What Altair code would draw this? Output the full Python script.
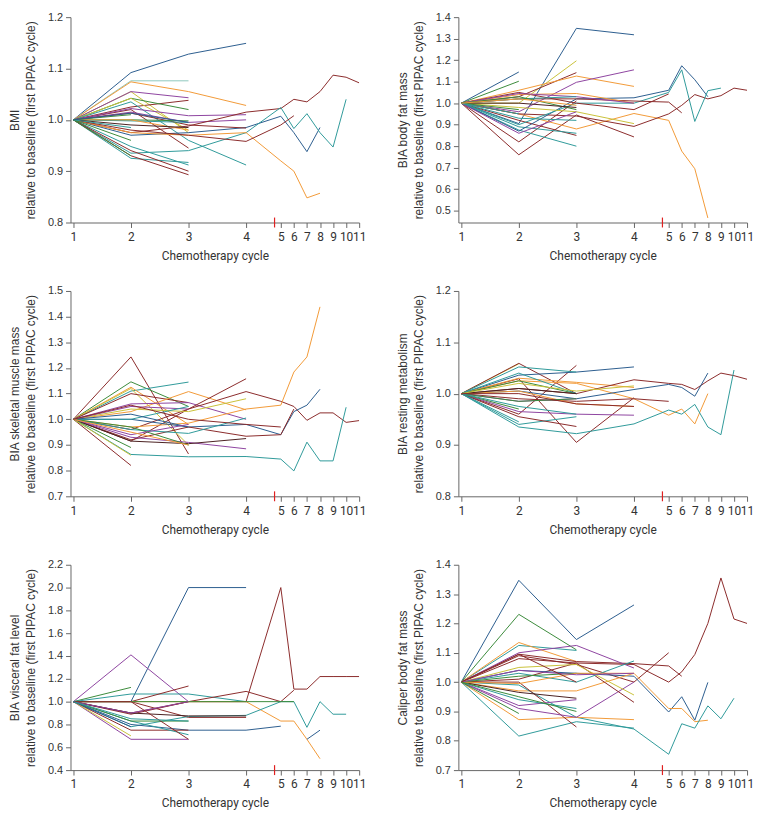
import altair as alt
import pandas as pd

# ---------------- data ----------------
CYCLES = [1, 2, 3, 4, 5, 6, 7, 8, 9, 10, 11]
BREAK_AT = [4.82]

PALETTE = {
    "N": "#2c5d8f",  # navy
    "T": "#2f9a9a",  # teal
    "M": "#8b2b2b",  # maroon
    "O": "#f29a38",  # orange
    "P": "#8e44a0",  # purple
    "G": "#3b8b3b",  # green
    "Y": "#c9c13a",  # yellow
    "L": "#8fc7bd",  # light teal
    "K": "#4a2020",  # dark
}

BMI = [
    ("N", [1, 1.092, 1.128, 1.149]),
    ("L", [1, 1.076, 1.076]),
    ("O", [1, 1.074, 1.055, 1.028]),
    ("Y", [1, 1.055, 0.975]),
    ("P", [1, 1.055, 1.043]),
    ("M", [1, 1.025, 1.038]),
    ("G", [1, 1.042, 1.02]),
    ("Y", [1, 1.042, 0.98]),
    ("T", [1, 1.035, 0.96, 0.912]),
    ("M", [1, 1.02, 0.945]),
    ("P", [1, 1.022, 1.008, 1.01]),
    ("P", [1, 1.015, 0.995, 1.0]),
    ("N", [1, 0.97, 0.975, 0.985, 1.007, 0.975, 0.938, 0.985]),
    ("M", [1, 0.975, 0.988, 1.015, 1.022, 1.04, 1.035, 1.055, 1.087, 1.083, 1.072]),
    ("T", [1, 0.935, 0.94, 0.975, 1.024, 0.983, 1.012, 0.975, 0.947, 1.04]),
    ("O", [1, 0.975, 0.97, 0.975, 0.92, 0.90, 0.848, 0.857]),
    ("M", [1, 0.98, 0.97, 0.958, 0.99, 1.008]),
    ("M", [1, 1.013, 0.99, 0.984]),
    ("G", [1, 1.0, 0.998]),
    ("T", [1, 0.998, 0.995]),
    ("O", [1, 1.0, 0.98]),
    ("K", [1, 0.99, 0.985]),
    ("T", [1, 0.925, 0.917]),
    ("T", [1, 0.948, 0.912]),
    ("M", [1, 0.94, 0.90]),
    ("M", [1, 0.93, 0.893]),
    ("G", [1, 0.93]),
    ("G", [1, 0.96]),
    ("T", [1, 0.985]),
    ("G", [1, 1.01]),
    ("N", [1, 1.013, 0.995]),
]

FAT = [
    ("N", [1, 1.145]),
    ("G", [1, 1.102]),
    ("N", [1, 0.905, 1.348, 1.318]),
    ("Y", [1, 1.0, 1.197]),
    ("M", [1, 1.03, 1.142]),
    ("O", [1, 1.06, 1.126, 1.078]),
    ("P", [1, 0.96, 1.097, 1.155]),
    ("M", [1, 0.76, 0.945, 0.843]),
    ("M", [1, 0.82, 1.01]),
    ("T", [1, 0.875, 0.80]),
    ("M", [1, 0.92, 0.85]),
    ("T", [1, 0.89, 0.86]),
    ("O", [1, 0.95, 0.88, 0.952, 0.92, 0.777, 0.695, 0.466]),
    ("M", [1, 0.95, 0.94, 0.892, 0.95, 0.99, 1.04, 1.02, 1.035, 1.07, 1.06]),
    ("N", [1, 0.87, 1.02, 1.025, 1.06, 1.174, 1.109, 1.03]),
    ("T", [1, 0.9, 1.0, 1.0, 1.05, 1.155, 0.915, 1.058, 1.07]),
    ("M", [1, 1.02, 1.02, 1.01, 1.005, 0.955]),
    ("M", [1, 1.05, 1.0, 0.97, 1.043]),
    ("O", [1, 1.04, 1.045, 1.0]),
    ("Y", [1, 0.98, 0.96, 0.905]),
    ("P", [1, 1.045, 1.03, 1.0]),
    ("T", [1, 1.02, 1.03]),
    ("G", [1, 1.03, 0.97]),
    ("P", [1, 0.86, 0.96]),
    ("T", [1, 0.93, 0.92]),
    ("K", [1, 1.0, 0.98]),
    ("G", [1, 0.97]),
    ("T", [1, 0.95]),
    ("O", [1, 1.02, 0.99]),
]

SMM = [
    ("M", [1, 1.243, 0.865]),
    ("M", [1, 0.82]),
    ("G", [1, 1.146, 1.05]),
    ("T", [1, 1.11, 1.145]),
    ("O", [1, 1.125, 0.98]),
    ("Y", [1, 1.12, 0.90]),
    ("M", [1, 1.10, 1.065]),
    ("O", [1, 1.03, 1.108, 1.037]),
    ("P", [1, 1.06, 1.065, 1.0]),
    ("M", [1, 0.915, 1.04, 1.108, 1.07, 1.05, 0.996, 1.025, 1.025, 0.988, 0.995]),
    ("M", [1, 0.96, 1.04, 1.158]),
    ("O", [1, 0.97, 0.985, 1.04, 1.055, 1.184, 1.243, 1.438]),
    ("N", [1, 1.0, 0.97, 0.98, 0.94, 1.03, 1.055, 1.117]),
    ("T", [1, 0.863, 0.854, 0.855, 0.845, 0.799, 0.911, 0.838, 0.838, 1.047]),
    ("M", [1, 0.92, 0.97, 0.934, 0.94, 1.04]),
    ("P", [1, 0.93, 0.91, 0.885]),
    ("K", [1, 0.915, 0.905, 0.925]),
    ("T", [1, 0.96, 0.945, 1.005]),
    ("Y", [1, 1.04, 1.03, 1.08]),
    ("G", [1, 0.89]),
    ("Y", [1, 0.86]),
    ("P", [1, 1.05, 1.04]),
    ("T", [1, 1.0, 1.05]),
    ("N", [1, 1.02, 0.97]),
    ("G", [1, 0.97, 0.9]),
    ("P", [1, 0.94, 0.98]),
    ("O", [1, 0.95, 0.90]),
    ("M", [1, 1.055, 1.0, 0.98, 0.97]),
]

RMR = [
    ("Y", [1, 1.058]),
    ("M", [1, 1.059, 1.0]),
    ("M", [1, 1.029, 0.905, 0.992]),
    ("M", [1, 0.96, 1.055]),
    ("N", [1, 1.036, 1.042, 1.052]),
    ("T", [1, 1.052, 1.042]),
    ("O", [1, 1.03, 1.022, 1.012]),
    ("O", [1, 1.025, 1.02, 0.99, 0.958, 0.97, 0.941, 1.0]),
    ("M", [1, 1.01, 1.0, 1.027, 1.02, 1.018, 1.008, 1.025, 1.04, 1.035, 1.028]),
    ("N", [1, 1.005, 0.99, 1.008, 1.018, 1.012, 0.995, 1.04]),
    ("T", [1, 0.935, 0.922, 0.941, 0.968, 0.96, 0.979, 0.935, 0.92, 1.046]),
    ("M", [1, 0.99, 0.985, 0.99, 0.985]),
    ("T", [1, 0.94, 0.955]),
    ("M", [1, 0.955, 0.936]),
    ("P", [1, 0.965, 0.96, 0.958]),
    ("G", [1, 1.025, 1.0]),
    ("T", [1, 1.04, 1.0]),
    ("G", [1, 0.97]),
    ("T", [1, 0.945]),
    ("O", [1, 1.005, 0.98, 0.975]),
    ("P", [1, 0.985, 0.99]),
    ("K", [1, 1.01, 1.0]),
    ("G", [1, 0.985, 0.99]),
    ("T", [1, 0.975, 0.96]),
    ("Y", [1, 1.02, 1.005, 1.015]),
    ("M", [1, 1.0, 0.98, 0.975]),
]

VFL = [
    ("N", [1, 1.0, 2.0, 2.0]),
    ("P", [1, 1.41, 1.0]),
    ("G", [1, 1.125]),
    ("T", [1, 1.067, 1.067, 1.0]),
    ("M", [1, 1.0, 1.137]),
    ("M", [1, 1.0, 0.862, 0.862]),
    ("M", [1, 0.9, 1.0, 1.0, 2.0, 1.11, 1.11, 1.22, 1.22, 1.22, 1.22]),
    ("M", [1, 0.89, 1.0, 1.09, 1.0, 1.1]),
    ("O", [1, 1.0, 1.0, 1.0, 0.83, 0.83, 0.67, 0.5]),
    ("T", [1, 0.78, 0.87, 0.88, 1.0, 1.0, 0.775, 1.0, 0.89, 0.89]),
    ("G", [1, 1.0, 1.0, 1.0, 1.0, 1.0]),
    ("N", [1, 0.8, 0.75, 0.75, 0.785, None, 0.67, 0.75]),
    ("P", [1, 0.67, 0.67]),
    ("M", [1, 0.75, 0.75]),
    ("Y", [1, 0.7]),
    ("T", [1, 0.83, 0.71]),
    ("G", [1, 0.83, 0.83]),
    ("K", [1, 0.9, 0.875, 0.875]),
    ("P", [1, 0.9, 1.0]),
    ("M", [1, 1.0, 0.67]),
    ("N", [1, 0.78]),
    ("T", [1, 0.85, 0.83]),
]

CAL = [
    ("N", [1, 1.347, 1.145, 1.263]),
    ("G", [1, 1.231, 1.11]),
    ("T", [1, 1.125, 1.108]),
    ("O", [1, 1.135, 1.07]),
    ("M", [1, 1.095, 1.07, 1.063, 1.055, 1.02]),
    ("M", [1, 1.09, 1.06, 1.0, 1.1]),
    ("M", [1, 1.01, 1.065, 1.06, 1.0, 1.035, 1.094, 1.2, 1.355, 1.215, 1.2]),
    ("N", [1, 1.04, 1.03, 1.02, 0.898, 0.95, 0.87, 0.999]),
    ("O", [1, 0.97, 0.97, 1.03, 0.91, 0.91, 0.865, 0.87]),
    ("T", [1, 0.99, 0.88, 0.84, 0.754, 0.858, 0.843, 0.919, 0.875, 0.945]),
    ("T", [1, 0.816, 0.865, 0.843]),
    ("O", [1, 0.872, 0.88, 0.872]),
    ("M", [1, 1.0, 0.847]),
    ("P", [1, 0.91, 0.88, 1.0]),
    ("P", [1, 1.1, 1.125, 1.048]),
    ("M", [1, 1.08, 1.065, 0.931]),
    ("Y", [1, 1.05, 1.06, 0.956]),
    ("T", [1, 1.03, 1.0, 1.072]),
    ("P", [1, 0.92, 0.94]),
    ("K", [1, 0.965, 0.945]),
    ("G", [1, 0.893]),
    ("G", [1, 1.02, 1.03]),
    ("T", [1, 0.94, 0.91]),
    ("O", [1, 0.995, 1.03, 1.03]),
    ("P", [1, 1.04, 1.025, 1.03]),
    ("M", [1, 1.095, 1.0]),
    ("G", [1, 0.95, 0.9]),
]

# ---------------- layout ----------------
W, H = 291, 207
X_DOMAIN = [0.95, 4, 5, 11]
X_RANGE = [0, 177, 212, W]
SUBTITLE = "relative to baseline (first PIPAC cycle)"


def make_df(series):
    rows = []
    for i, (c, vals) in enumerate(series):
        seg = 0
        for k, v in enumerate(vals):
            if v is None:
                seg += 1
                continue
            rows.append({"sid": f"{i}-{seg}", "cycle": k + 1, "value": v, "col": PALETTE[c]})
    return pd.DataFrame(rows)


def x_enc():
    return alt.X(
        "cycle:Q",
        scale=alt.Scale(domain=X_DOMAIN, range=X_RANGE),
        axis=alt.Axis(values=CYCLES, title="Chemotherapy cycle", format="d",
                      labelOverlap=False, labelFlush=False),
    )


def panel(series, title, ydom, yticks):
    df = make_df(series)
    lines = alt.Chart(df).mark_line(strokeWidth=1, clip=True).encode(
        x=x_enc(),
        y=alt.Y("value:Q", scale=alt.Scale(domain=ydom, nice=False, zero=False),
                axis=alt.Axis(values=yticks, format=".1f", title=[title, SUBTITLE],
                              labelOverlap=False)),
        color=alt.Color("col:N", scale=None),
        detail="sid:N",
        order="cycle:Q",
    )
    brk = alt.Chart(pd.DataFrame({"cycle": BREAK_AT})).mark_rule(
        color="#e02020", strokeWidth=1.2
    ).encode(
        x=x_enc(),
        y=alt.value(H - 5),
        y2=alt.value(H + 5),
    )
    return alt.layer(lines, brk).properties(width=W, height=H)


p1 = panel(BMI, "BMI", [0.8, 1.2], [0.8, 0.9, 1.0, 1.1, 1.2])
p2 = panel(FAT, "BIA body fat mass", [0.445, 1.4], [0.5, 0.6, 0.7, 0.8, 0.9, 1.0, 1.1, 1.2, 1.3, 1.4])
p3 = panel(SMM, "BIA skeletal muscle mass", [0.7, 1.5], [0.7, 0.8, 0.9, 1.0, 1.1, 1.2, 1.3, 1.4, 1.5])
p4 = panel(RMR, "BIA resting metabolism", [0.8, 1.2], [0.8, 0.9, 1.0, 1.1, 1.2])
p5 = panel(VFL, "BIA visceral fat level", [0.4, 2.2], [0.4, 0.6, 0.8, 1.0, 1.2, 1.4, 1.6, 1.8, 2.0, 2.2])
p6 = panel(CAL, "Caliper body fat mass", [0.7, 1.4], [0.7, 0.8, 0.9, 1.0, 1.1, 1.2, 1.3, 1.4])

chart = alt.vconcat(
    alt.hconcat(p1, p2, spacing=30),
    alt.hconcat(p3, p4, spacing=30),
    alt.hconcat(p5, p6, spacing=30),
    spacing=24,
).properties(padding=0, background="white").configure_view(stroke=None).configure_axis(
    grid=False,
    domainColor="#666666",
    tickColor="#666666",
    labelColor="#333333",
    titleColor="#333333",
    titleFontWeight="normal",
    tickSize=5,
).configure_axisX(
    labelFont="Roboto",
    labelFontSize=12,
    titleFont="Roboto",
    titleFontSize=12,
    labelPadding=4,
    titlePadding=8,
    labelAngle=0,
).configure_axisY(
    labelFont="Liberation Sans",
    labelFontSize=11,
    titleFont="Liberation Sans",
    titleFontSize=12,
    titleLineHeight=16,
    labelPadding=3,
    titlePadding=10,
)

chart.save("out.html", embed_options={"renderer": "svg", "actions": False})
